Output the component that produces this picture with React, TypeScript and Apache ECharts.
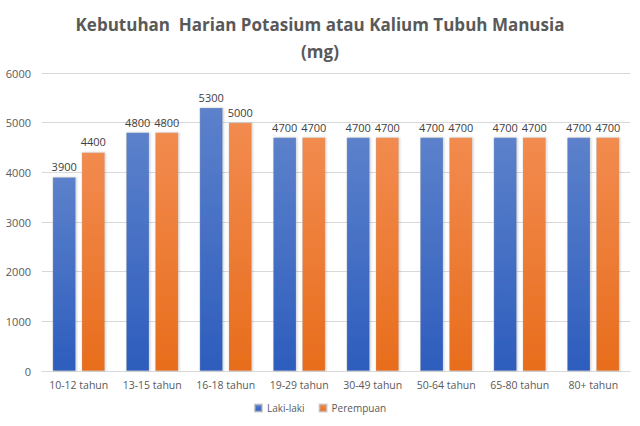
import React, { useEffect, useRef } from "react";
import * as echarts from "echarts";

const categories = ["10-12 tahun", "13-15 tahun", "16-18 tahun", "19-29 tahun", "30-49 tahun", "50-64 tahun", "65-80 tahun", "80+ tahun"];
const lakiLaki = [3900, 4800, 5300, 4700, 4700, 4700, 4700, 4700];
const perempuan = [4400, 4800, 5000, 4700, 4700, 4700, 4700, 4700];
const yTicks = { min: 0, max: 6000, interval: 1000 };

const FONT = "'Open Sans', 'Noto Sans', sans-serif";

export default function App() {
  const ref = useRef<HTMLDivElement>(null);
  useEffect(() => {
    if (!ref.current) return;
    const chart = echarts.init(ref.current, undefined, { renderer: "svg" });
    const grad = (top: string, bottom: string) =>
      new echarts.graphic.LinearGradient(0, 0, 0, 1, [
        { offset: 0, color: top },
        { offset: 1, color: bottom },
      ]);
    const label = {
      show: true,
      position: "top" as const,
      distance: 5,
      color: "#404040",
      fontSize: 11,
      fontFamily: FONT,
    };
    chart.setOption({
      animation: false,
      backgroundColor: "#ffffff",
      title: {
        text: "Kebutuhan  Harian Potasium atau Kalium Tubuh Manusia\n(mg)",
        left: "center",
        top: 6,
        textStyle: {
          fontFamily: FONT,
          fontSize: 17,
          fontWeight: "bold",
          color: "#595959",
          lineHeight: 27,
        },
      },
      legend: {
        bottom: 8,
        left: "center",
        itemWidth: 7,
        itemHeight: 7,
        itemGap: 14,
        icon: "rect",
        textStyle: { fontFamily: FONT, fontSize: 10, color: "#595959" },
        data: ["Laki-laki", "Perempuan"],
      },
      grid: { left: 42, right: 10, top: 73, bottom: 55 },
      xAxis: {
        type: "category",
        data: categories,
        axisTick: { show: false },
        axisLine: { lineStyle: { color: "#d9d9d9" } },
        axisLabel: { color: "#595959", fontSize: 10.5, fontFamily: FONT, margin: 8, interval: 0 },
      },
      yAxis: {
        type: "value",
        min: yTicks.min,
        max: yTicks.max,
        interval: yTicks.interval,
        axisLine: { show: false },
        axisTick: { show: false },
        splitLine: { lineStyle: { color: "#d9d9d9" } },
        axisLabel: {
          color: "#595959",
          fontSize: 11,
          fontFamily: FONT,
          margin: 11,
          formatter: (v: number) => String(v),
        },
      },
      series: [
        {
          name: "Laki-laki",
          type: "bar",
          data: lakiLaki,
          barGap: "26%",
          barCategoryGap: "29%",
          itemStyle: {
            color: grad("#5c81cb", "#2d5dbd"),
            borderColor: "rgba(180,180,180,0.6)",
            borderWidth: 0.5,
            shadowColor: "rgba(0,0,0,0.2)",
            shadowBlur: 2,
            shadowOffsetX: 1,
          },
          label,
        },
        {
          name: "Perempuan",
          type: "bar",
          data: perempuan,
          itemStyle: {
            color: grad("#f28b4f", "#e86d1c"),
            borderColor: "rgba(180,180,180,0.6)",
            borderWidth: 0.5,
            shadowColor: "rgba(0,0,0,0.2)",
            shadowBlur: 2,
            shadowOffsetX: 1,
          },
          label,
        },
      ],
    });
    return () => chart.dispose();
  }, []);
  return (
    <div
      ref={ref}
      style={{ position: "absolute", left: 0, top: 0, width: 640, height: 426 }}
    />
  );
}
